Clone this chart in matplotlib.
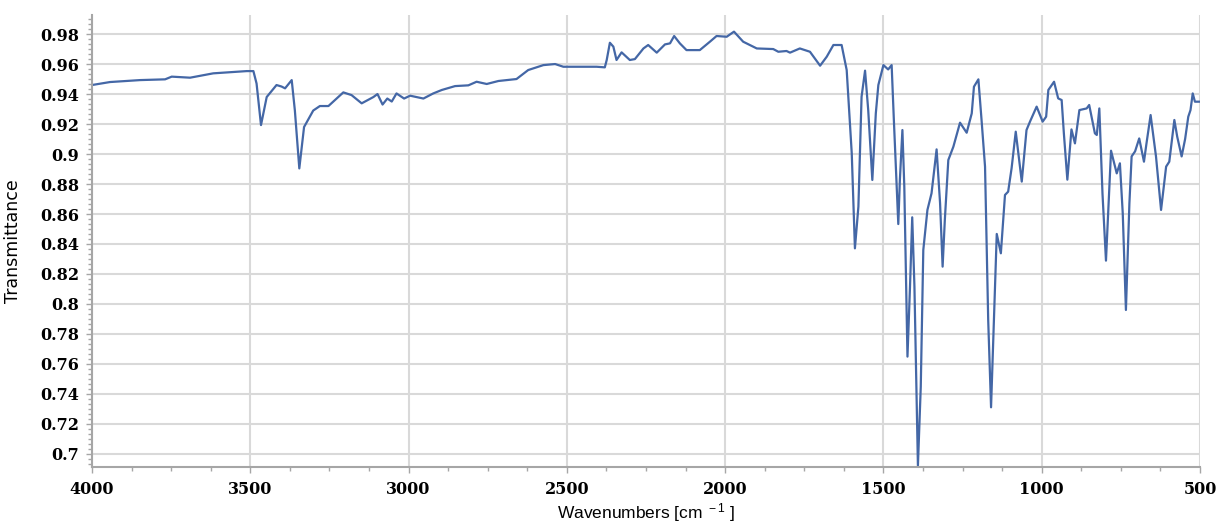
import numpy as np
import matplotlib
matplotlib.use("Agg")
import matplotlib.pyplot as plt
from matplotlib.ticker import MultipleLocator, AutoMinorLocator, FuncFormatter

# FTIR spectrum, values
wavenumber = [
    4000, 3943, 3848, 3769, 3748, 3690, 3617, 3511, 3490, 3480, 3466, 3448,
    3417, 3401, 3390, 3369, 3359, 3345, 3330, 3301, 3280, 3253, 3206, 3180,
    3148, 3111, 3098, 3082, 3067, 3053, 3038, 3014, 2995, 2953, 2922, 2895,
    2853, 2811, 2785, 2753, 2716, 2659, 2622, 2574, 2537, 2511, 2406, 2380,
    2374, 2364, 2353, 2343, 2327, 2301, 2285, 2258, 2243, 2216, 2190, 2174,
    2161, 2143, 2122, 2080, 2048, 2027, 1995, 1972, 1943, 1900, 1848, 1832,
    1806, 1795, 1764, 1732, 1700, 1679, 1658, 1632, 1616, 1600, 1590, 1579,
    1569, 1558, 1548, 1535, 1524, 1516, 1500, 1485, 1474, 1467, 1453, 1448,
    1440, 1434, 1424, 1416, 1409, 1402, 1391, 1382, 1374, 1361, 1348, 1332,
    1321, 1313, 1306, 1295, 1279, 1258, 1237, 1221, 1214, 1200, 1190, 1179,
    1169, 1160, 1151, 1142, 1129, 1116, 1106, 1095, 1082, 1063, 1048, 1037,
    1016, 997, 986, 979, 961, 948, 937, 930, 919, 906, 895, 881, 858, 850,
    832, 826, 818, 808, 797, 781, 763, 753, 744, 734, 723, 716, 705, 692,
    677, 669, 656, 639, 623, 607, 597, 581, 572, 558, 547, 537, 530, 523,
    516, 500,
]
transmittance = [
    0.946, 0.948, 0.9493, 0.9498, 0.9516, 0.9509, 0.9538, 0.9553, 0.9553, 0.947, 0.9193, 0.938,
    0.946, 0.945, 0.9438, 0.9493, 0.929, 0.8904, 0.918, 0.929, 0.932, 0.932, 0.9411, 0.9393,
    0.9338, 0.938, 0.940, 0.933, 0.937, 0.935, 0.9404, 0.937, 0.9389, 0.937, 0.9404, 0.9427,
    0.9453, 0.9458, 0.9482, 0.9467, 0.9487, 0.950, 0.956, 0.9593, 0.960, 0.9582, 0.9582, 0.9578,
    0.9627, 0.9742, 0.9716, 0.9627, 0.9678, 0.9627, 0.9633, 0.9704, 0.9727, 0.9676, 0.9731, 0.9738,
    0.9787, 0.9738, 0.9693, 0.9693, 0.9749, 0.9787, 0.9782, 0.9816, 0.9749, 0.9704, 0.970, 0.9682,
    0.9687, 0.9676, 0.9704, 0.9682, 0.9589, 0.9649, 0.9727, 0.9727, 0.9560, 0.9004, 0.8371, 0.8649,
    0.9382, 0.9556, 0.9293, 0.8827, 0.9271, 0.946, 0.9593, 0.9564, 0.9593, 0.9227, 0.8533, 0.8827,
    0.916, 0.8782, 0.7649, 0.8116, 0.8578, 0.8116, 0.6922, 0.7449, 0.836, 0.8627, 0.8738, 0.9031,
    0.8671, 0.8249, 0.856, 0.896, 0.9049, 0.9209, 0.9142, 0.9271, 0.9449, 0.9498, 0.9227, 0.8916,
    0.7893, 0.7311, 0.7893, 0.8467, 0.8338, 0.8727, 0.8749, 0.8907, 0.9149, 0.8816, 0.916, 0.9216,
    0.9316, 0.9216, 0.9249, 0.9427, 0.9482, 0.9371, 0.936, 0.9138, 0.8829, 0.9164, 0.9071, 0.9293, 0.9304, 0.9327,
    0.9138, 0.9127, 0.9304, 0.8736, 0.8289, 0.9022, 0.8871, 0.8938, 0.8604, 0.796, 0.8671, 0.8984, 0.9018, 0.9104,
    0.8949, 0.9071, 0.9260, 0.8984, 0.8627, 0.8916, 0.8949, 0.9227, 0.9116, 0.8984, 0.91, 0.9249, 0.9293, 0.9404,
    0.9349, 0.9349,
]

plt.rcParams["mathtext.default"] = "regular"

fig = plt.figure(figsize=(12.21, 5.23), dpi=100)
ax = fig.add_axes([0.0753, 0.1071, 0.9075, 0.8642])

ax.plot(wavenumber, transmittance, color="#4467a6", lw=1.6)

ax.xaxis.set_major_locator(MultipleLocator(500))
ax.xaxis.set_minor_locator(MultipleLocator(125))
ax.yaxis.set_major_locator(MultipleLocator(0.02))
ax.yaxis.set_minor_locator(AutoMinorLocator(6))
ax.xaxis.set_major_formatter(FuncFormatter(lambda v, p: f"{v:.0f}"))
ax.yaxis.set_major_formatter(FuncFormatter(lambda v, p: f"{v:.2f}".rstrip("0")))

ax.set_xlim(4000, 500)
ax.set_ylim(0.6913, 0.9927)

ax.grid(True, which="major", color="#d9d9d9", lw=1.5)
ax.set_axisbelow(True)

for s in ["top", "right"]:
    ax.spines[s].set_visible(False)
for s in ["left", "bottom"]:
    ax.spines[s].set_color("#a6a6a6")
    ax.spines[s].set_linewidth(1.5)

ax.tick_params(which="both", color="#a6a6a6", direction="out")
ax.tick_params(which="major", length=4, width=1)
ax.tick_params(which="minor", length=3, width=1)
ax.tick_params(axis="x", pad=6)
ax.tick_params(axis="y", pad=5)
for lab in ax.get_xticklabels() + ax.get_yticklabels():
    lab.set_fontfamily("DejaVu Serif")
    lab.set_fontweight("bold")
    lab.set_fontsize(11.5)

ax.set_xlabel("Wavenumbers [cm$^{\\ -1}$ ]", family="Liberation Sans", size=12.5)
ax.xaxis.set_label_coords(0.5, -0.075)
ax.set_ylabel("Transmittance", family="DejaVu Sans", size=12.5)
ax.yaxis.set_label_coords(-0.063, 0.5)

fig.savefig("out.png", dpi=100)
